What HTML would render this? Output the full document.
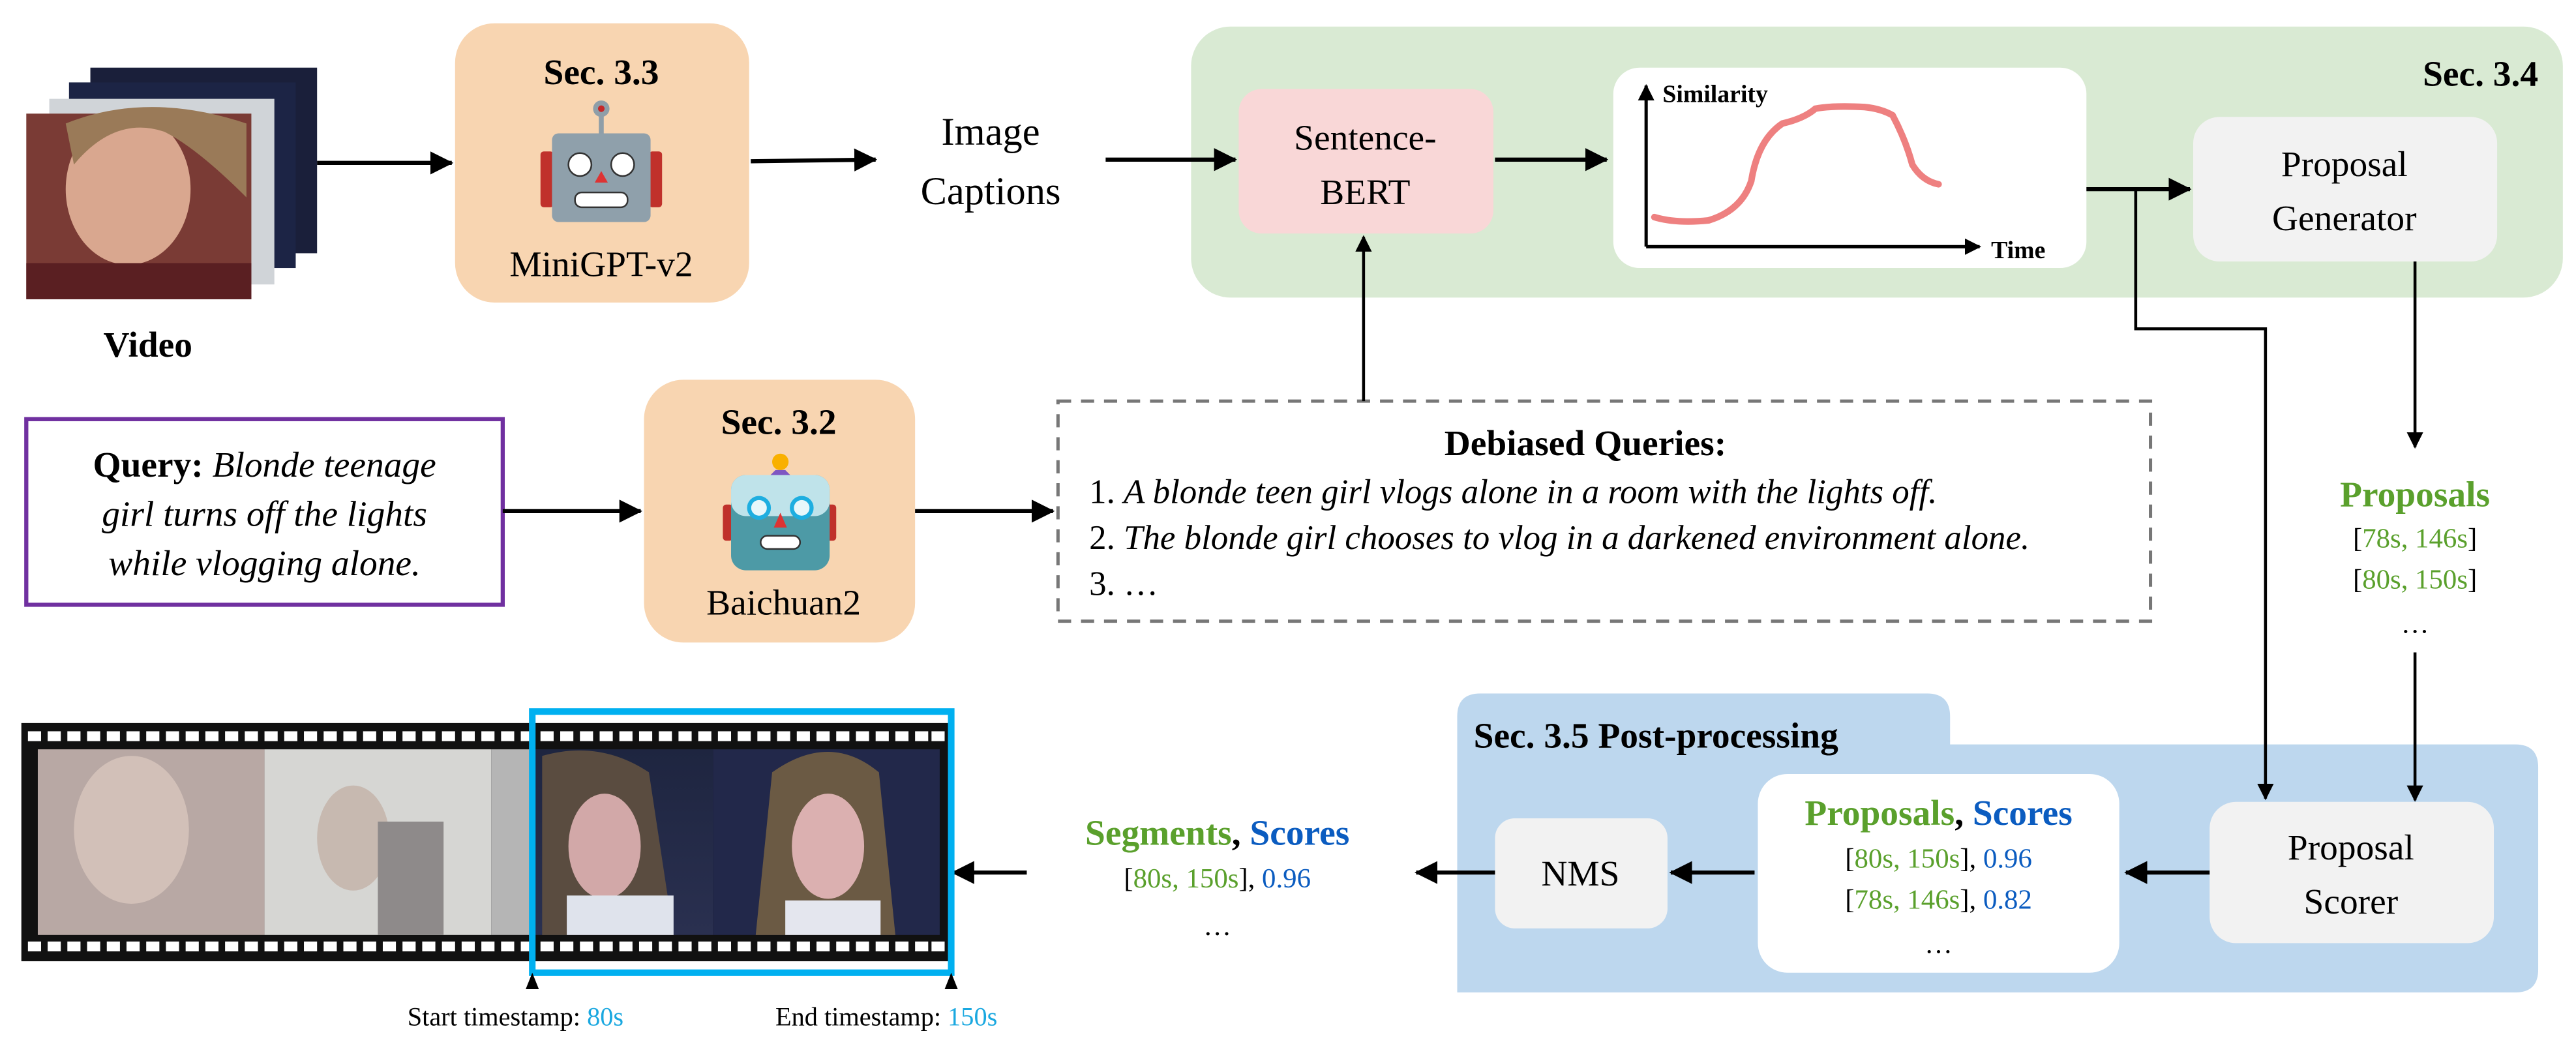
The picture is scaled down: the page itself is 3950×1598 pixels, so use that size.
<!DOCTYPE html>
<html><head><meta charset="utf-8"><style>
html,body{margin:0;padding:0;background:#fff;}
svg{display:block;font-family:'Liberation Serif','DejaVu Serif',serif;}
svg text{font-family:'Liberation Serif','DejaVu Serif',serif;}
</style></head><body>
<svg width="3950" height="1598" viewBox="0 0 1568 634" xmlns="http://www.w3.org/2000/svg" font-family="Liberation Serif, serif">
<defs>
<marker id="ah" markerWidth="10" markerHeight="10" refX="9" refY="5" orient="auto" markerUnits="userSpaceOnUse"><path d="M0,0 L10,5 L0,10 Z" fill="#000"/></marker>
<marker id="ah2" markerWidth="14" markerHeight="14" refX="13" refY="7" orient="auto" markerUnits="userSpaceOnUse"><path d="M0,0 L14,7 L0,14 Z" fill="#000"/></marker>
<linearGradient id="dark" x1="0" y1="0" x2="0" y2="1"><stop offset="0" stop-color="#1e2540"/><stop offset="1" stop-color="#2a3050"/></linearGradient>
</defs>

<!-- Blue region (drawn first so arrows sit on top) -->
<path d="M887,604 L887,436 Q887,422 901,422 L1173,422 Q1187,422 1187,436 L1187,453 L1531,453 Q1545,453 1545,467 L1545,590 Q1545,604 1531,604 Z" fill="#bdd7ee"/>

<!-- Video stack -->
<rect x="55" y="41" width="138" height="113" fill="#1a1f3a"/>
<rect x="42" y="50" width="138" height="113" fill="#1c2445"/>
<rect x="30" y="60" width="137" height="113" fill="#d0d4d8"/>
<rect x="16" y="69" width="137" height="113" fill="#7a3b35"/>
<ellipse cx="78" cy="115" rx="38" ry="46" fill="#d9a78f"/>
<path d="M40,75 Q90,55 150,75 L150,120 Q120,90 100,80 Q70,70 45,100 Z" fill="#9a7a58"/>
<rect x="16" y="160" width="137" height="22" fill="#5a1f22"/>
<text x="90" y="217" font-size="22" font-weight="bold" text-anchor="middle">Video</text>

<!-- MiniGPT box -->
<rect x="277" y="14" width="179" height="170" rx="24" fill="#f8d5b1"/>
<text x="366" y="51" font-size="22" font-weight="bold" text-anchor="middle">Sec. 3.3</text>
<line x1="366" y1="65" x2="366" y2="82" stroke="#8f9ea8" stroke-width="3"/>
<circle cx="366" cy="66" r="5" fill="#8f9ea8"/><circle cx="366" cy="66" r="2" fill="#c62828"/>
<rect x="329" y="92" width="8" height="34" rx="2" fill="#c0312b"/>
<rect x="395" y="92" width="8" height="34" rx="2" fill="#c0312b"/>
<rect x="336" y="81" width="60" height="54" rx="4" fill="#8fa0ab"/>
<circle cx="353" cy="100" r="7" fill="#fff" stroke="#333" stroke-width="1"/>
<circle cx="379" cy="100" r="7" fill="#fff" stroke="#333" stroke-width="1"/>
<path d="M366,104 L370,111 L362,111 Z" fill="#d33"/>
<rect x="350" y="117" width="32" height="9" rx="4" fill="#fff" stroke="#333" stroke-width="1"/>
<text x="366" y="168" font-size="22" text-anchor="middle">MiniGPT-v2</text>

<line x1="193" y1="99" x2="275" y2="99" stroke="#000" stroke-width="2.5" marker-end="url(#ah2)"/>
<line x1="457" y1="98" x2="533" y2="97" stroke="#000" stroke-width="2.5" marker-end="url(#ah2)"/>
<text x="603" y="88" font-size="24" text-anchor="middle">Image</text>
<text x="603" y="124" font-size="24" text-anchor="middle">Captions</text>

<!-- Green box -->
<rect x="725" y="16" width="835" height="165" rx="24" fill="#d9ead3"/>
<text x="1545" y="52" font-size="22" font-weight="bold" text-anchor="end">Sec. 3.4</text>
<line x1="673" y1="97" x2="752" y2="97" stroke="#000" stroke-width="2.5" marker-end="url(#ah2)"/>
<rect x="754" y="54" width="155" height="88" rx="14" fill="#f9d7d7"/>
<text x="831" y="91" font-size="22" text-anchor="middle">Sentence-</text>
<text x="831" y="124" font-size="22" text-anchor="middle">BERT</text>
<line x1="910" y1="97" x2="978" y2="97" stroke="#000" stroke-width="2.5" marker-end="url(#ah2)"/>
<rect x="982" y="41" width="288" height="122" rx="16" fill="#fff"/>
<line x1="1002" y1="150" x2="1002" y2="52" stroke="#000" stroke-width="2" marker-end="url(#ah)"/>
<line x1="1002" y1="150" x2="1205" y2="150" stroke="#000" stroke-width="2" marker-end="url(#ah)"/>
<text x="1012" y="62" font-size="15" font-weight="bold">Similarity</text>
<text x="1212" y="157" font-size="15" font-weight="bold">Time</text>
<path d="M1007,132 Q1020,136 1040,134 Q1060,128 1066,110 Q1070,85 1085,75 Q1098,72 1105,66 Q1115,64 1135,65 Q1145,66 1152,70 Q1160,85 1164,100 Q1170,110 1180,112" fill="none" stroke="#ee8080" stroke-width="4" stroke-linecap="round"/>
<rect x="1335" y="71" width="185" height="88" rx="16" fill="#f2f2f2"/>
<text x="1427" y="107" font-size="22" text-anchor="middle">Proposal</text>
<text x="1427" y="140" font-size="22" text-anchor="middle">Generator</text>
<line x1="1270" y1="115" x2="1333" y2="115" stroke="#000" stroke-width="2.5" marker-end="url(#ah2)"/>
<polyline points="1300,115 1300,200 1379,200 1379,486" fill="none" stroke="#000" stroke-width="1.8" marker-end="url(#ah)"/>
<line x1="1470" y1="159" x2="1470" y2="272" stroke="#000" stroke-width="1.8" marker-end="url(#ah)"/>

<text x="1470" y="308" font-size="22" font-weight="bold" fill="#5aa02c" text-anchor="middle">Proposals</text>
<text x="1470" y="333" font-size="17" text-anchor="middle"><tspan>[</tspan><tspan fill="#5aa02c">78s, 146s</tspan><tspan>]</tspan></text>
<text x="1470" y="358" font-size="17" text-anchor="middle"><tspan>[</tspan><tspan fill="#5aa02c">80s, 150s</tspan><tspan>]</tspan></text>
<text x="1470" y="385" font-size="17" text-anchor="middle">…</text>
<line x1="1470" y1="397" x2="1470" y2="487" stroke="#000" stroke-width="1.8" marker-end="url(#ah)"/>

<!-- Query -->
<rect x="16" y="255" width="290" height="113" fill="#fff" stroke="#7030a0" stroke-width="2.5"/>
<text x="161" y="290" font-size="22" text-anchor="middle"><tspan font-weight="bold">Query: </tspan><tspan font-style="italic">Blonde teenage</tspan></text>
<text x="161" y="320" font-size="22" font-style="italic" text-anchor="middle">girl turns off the lights</text>
<text x="161" y="350" font-size="22" font-style="italic" text-anchor="middle">while vlogging alone.</text>
<line x1="306" y1="311" x2="390" y2="311" stroke="#000" stroke-width="2.5" marker-end="url(#ah2)"/>

<!-- Baichuan -->
<rect x="392" y="231" width="165" height="160" rx="24" fill="#f8d5b1"/>
<text x="474" y="264" font-size="22" font-weight="bold" text-anchor="middle">Sec. 3.2</text>
<circle cx="475" cy="281" r="5" fill="#f9b000"/>
<path d="M468,290 L482,290 L478,286 L472,286 Z" fill="#7e57c2"/>
<rect x="440" y="307" width="6" height="22" rx="2" fill="#c0312b"/>
<rect x="503" y="307" width="6" height="22" rx="2" fill="#c0312b"/>
<rect x="445" y="289" width="60" height="58" rx="9" fill="#4d9aa6"/>
<rect x="445" y="289" width="60" height="25" rx="9" fill="#bfe3ea"/>
<circle cx="462" cy="309" r="6" fill="#e8f7fa" stroke="#1eaee0" stroke-width="2.5"/>
<circle cx="488" cy="309" r="6" fill="#e8f7fa" stroke="#1eaee0" stroke-width="2.5"/>
<path d="M475,312 L479,321 L471,321 Z" fill="#d33"/>
<rect x="463" y="326" width="24" height="8" rx="4" fill="#fff" stroke="#333" stroke-width="1"/>
<text x="477" y="374" font-size="22" text-anchor="middle">Baichuan2</text>
<line x1="557" y1="311" x2="641" y2="311" stroke="#000" stroke-width="2.5" marker-end="url(#ah2)"/>

<!-- Dashed -->
<rect x="644" y="244" width="665" height="134" fill="#fff" stroke="#777" stroke-width="2" stroke-dasharray="8,6"/>
<line x1="830" y1="244" x2="830" y2="144" stroke="#000" stroke-width="1.8" marker-end="url(#ah)"/>
<text x="965" y="277" font-size="22" font-weight="bold" text-anchor="middle">Debiased Queries:</text>
<text x="663" y="306" font-size="21">1. <tspan font-style="italic">A blonde teen girl vlogs alone in a room with the lights off.</tspan></text>
<text x="663" y="334" font-size="21">2. <tspan font-style="italic">The blonde girl chooses to vlog in a darkened environment alone.</tspan></text>
<text x="663" y="362" font-size="21">3. …</text>

<!-- Post-processing contents -->
<text x="897" y="455" font-size="22" font-weight="bold">Sec. 3.5 Post-processing</text>
<rect x="1070" y="471" width="220" height="121" rx="18" fill="#fff"/>
<text x="1180" y="502" font-size="22" font-weight="bold" text-anchor="middle"><tspan fill="#5aa02c">Proposals</tspan><tspan>, </tspan><tspan fill="#0b5cc0">Scores</tspan></text>
<text x="1180" y="528" font-size="17" text-anchor="middle">[<tspan fill="#5aa02c">80s, 150s</tspan>], <tspan fill="#0b5cc0">0.96</tspan></text>
<text x="1180" y="553" font-size="17" text-anchor="middle">[<tspan fill="#5aa02c">78s, 146s</tspan>], <tspan fill="#0b5cc0">0.82</tspan></text>
<text x="1180" y="580" font-size="17" text-anchor="middle">…</text>
<rect x="1345" y="488" width="173" height="86" rx="16" fill="#f2f2f2"/>
<text x="1431" y="523" font-size="22" text-anchor="middle">Proposal</text>
<text x="1431" y="556" font-size="22" text-anchor="middle">Scorer</text>
<rect x="910" y="498" width="105" height="67" rx="12" fill="#f2f2f2"/>
<text x="962" y="539" font-size="22" text-anchor="middle">NMS</text>
<line x1="1345" y1="531" x2="1294" y2="531" stroke="#000" stroke-width="2.5" marker-end="url(#ah2)"/>
<line x1="1068" y1="531" x2="1017" y2="531" stroke="#000" stroke-width="2.5" marker-end="url(#ah2)"/>
<line x1="910" y1="531" x2="862" y2="531" stroke="#000" stroke-width="2.5" marker-end="url(#ah2)"/>
<line x1="625" y1="531" x2="580" y2="531" stroke="#000" stroke-width="2.5" marker-end="url(#ah2)"/>
<text x="741" y="514" font-size="22" font-weight="bold" text-anchor="middle"><tspan fill="#5aa02c">Segments</tspan><tspan>, </tspan><tspan fill="#0b5cc0">Scores</tspan></text>
<text x="741" y="540" font-size="17" text-anchor="middle">[<tspan fill="#5aa02c">80s, 150s</tspan>], <tspan fill="#0b5cc0">0.96</tspan></text>
<text x="741" y="569" font-size="17" text-anchor="middle">…</text>

<!-- Film strip -->
<rect x="13" y="440" width="565" height="145" fill="#111"/>
<g fill="#fff" id="holes">
<rect x="17" y="445" width="8" height="6"/><rect x="29" y="445" width="8" height="6"/><rect x="41" y="445" width="8" height="6"/><rect x="53" y="445" width="8" height="6"/><rect x="65" y="445" width="8" height="6"/><rect x="77" y="445" width="8" height="6"/><rect x="89" y="445" width="8" height="6"/><rect x="101" y="445" width="8" height="6"/><rect x="113" y="445" width="8" height="6"/><rect x="125" y="445" width="8" height="6"/><rect x="137" y="445" width="8" height="6"/><rect x="149" y="445" width="8" height="6"/><rect x="161" y="445" width="8" height="6"/><rect x="173" y="445" width="8" height="6"/><rect x="185" y="445" width="8" height="6"/><rect x="197" y="445" width="8" height="6"/><rect x="209" y="445" width="8" height="6"/><rect x="221" y="445" width="8" height="6"/><rect x="233" y="445" width="8" height="6"/><rect x="245" y="445" width="8" height="6"/><rect x="257" y="445" width="8" height="6"/><rect x="269" y="445" width="8" height="6"/><rect x="281" y="445" width="8" height="6"/><rect x="293" y="445" width="8" height="6"/><rect x="305" y="445" width="8" height="6"/><rect x="317" y="445" width="8" height="6"/><rect x="329" y="445" width="8" height="6"/><rect x="341" y="445" width="8" height="6"/><rect x="353" y="445" width="8" height="6"/><rect x="365" y="445" width="8" height="6"/><rect x="377" y="445" width="8" height="6"/><rect x="389" y="445" width="8" height="6"/><rect x="401" y="445" width="8" height="6"/><rect x="413" y="445" width="8" height="6"/><rect x="425" y="445" width="8" height="6"/><rect x="437" y="445" width="8" height="6"/><rect x="449" y="445" width="8" height="6"/><rect x="461" y="445" width="8" height="6"/><rect x="473" y="445" width="8" height="6"/><rect x="485" y="445" width="8" height="6"/><rect x="497" y="445" width="8" height="6"/><rect x="509" y="445" width="8" height="6"/><rect x="521" y="445" width="8" height="6"/><rect x="533" y="445" width="8" height="6"/><rect x="545" y="445" width="8" height="6"/><rect x="557" y="445" width="8" height="6"/><rect x="567" y="445" width="8" height="6"/>
</g>
<use href="#holes" transform="translate(0,128)"/>
<rect x="23" y="456" width="138" height="113" fill="#b8a8a4"/>
<ellipse cx="80" cy="505" rx="35" ry="45" fill="#d2c0b8"/>
<rect x="161" y="456" width="138" height="113" fill="#d6d6d3"/>
<ellipse cx="215" cy="510" rx="22" ry="32" fill="#c7b9b0"/>
<rect x="230" y="500" width="40" height="69" fill="#8e8a8a"/>
<rect x="299" y="456" width="25" height="113" fill="#b5b5b5"/>
<rect x="324" y="456" width="110" height="113" fill="url(#dark)"/>
<path d="M330,460 Q365,450 395,470 L410,569 L330,569 Z" fill="#5a4c40"/>
<ellipse cx="368" cy="515" rx="22" ry="32" fill="#d2a8a8"/>
<rect x="345" y="545" width="65" height="24" fill="#dfe3ec"/>
<rect x="434" y="456" width="138" height="113" fill="#22284a"/>
<path d="M470,470 Q505,445 535,470 L545,569 L460,569 Z" fill="#6b5a44"/>
<ellipse cx="504" cy="515" rx="22" ry="32" fill="#dbb0b0"/>
<rect x="478" y="548" width="58" height="21" fill="#e4e6ee"/>
<rect x="324" y="433" width="255" height="159" fill="none" stroke="#00b0f0" stroke-width="4"/>
<path d="M320,602 L324,592 L328,602 Z" fill="#000"/>
<path d="M575,602 L579,592 L583,602 Z" fill="#000"/>
<text x="248" y="624" font-size="16">Start timestamp: <tspan fill="#1aa8e0">80s</tspan></text>
<text x="472" y="624" font-size="16">End timestamp: <tspan fill="#1aa8e0">150s</tspan></text>
</svg>
</body></html>
